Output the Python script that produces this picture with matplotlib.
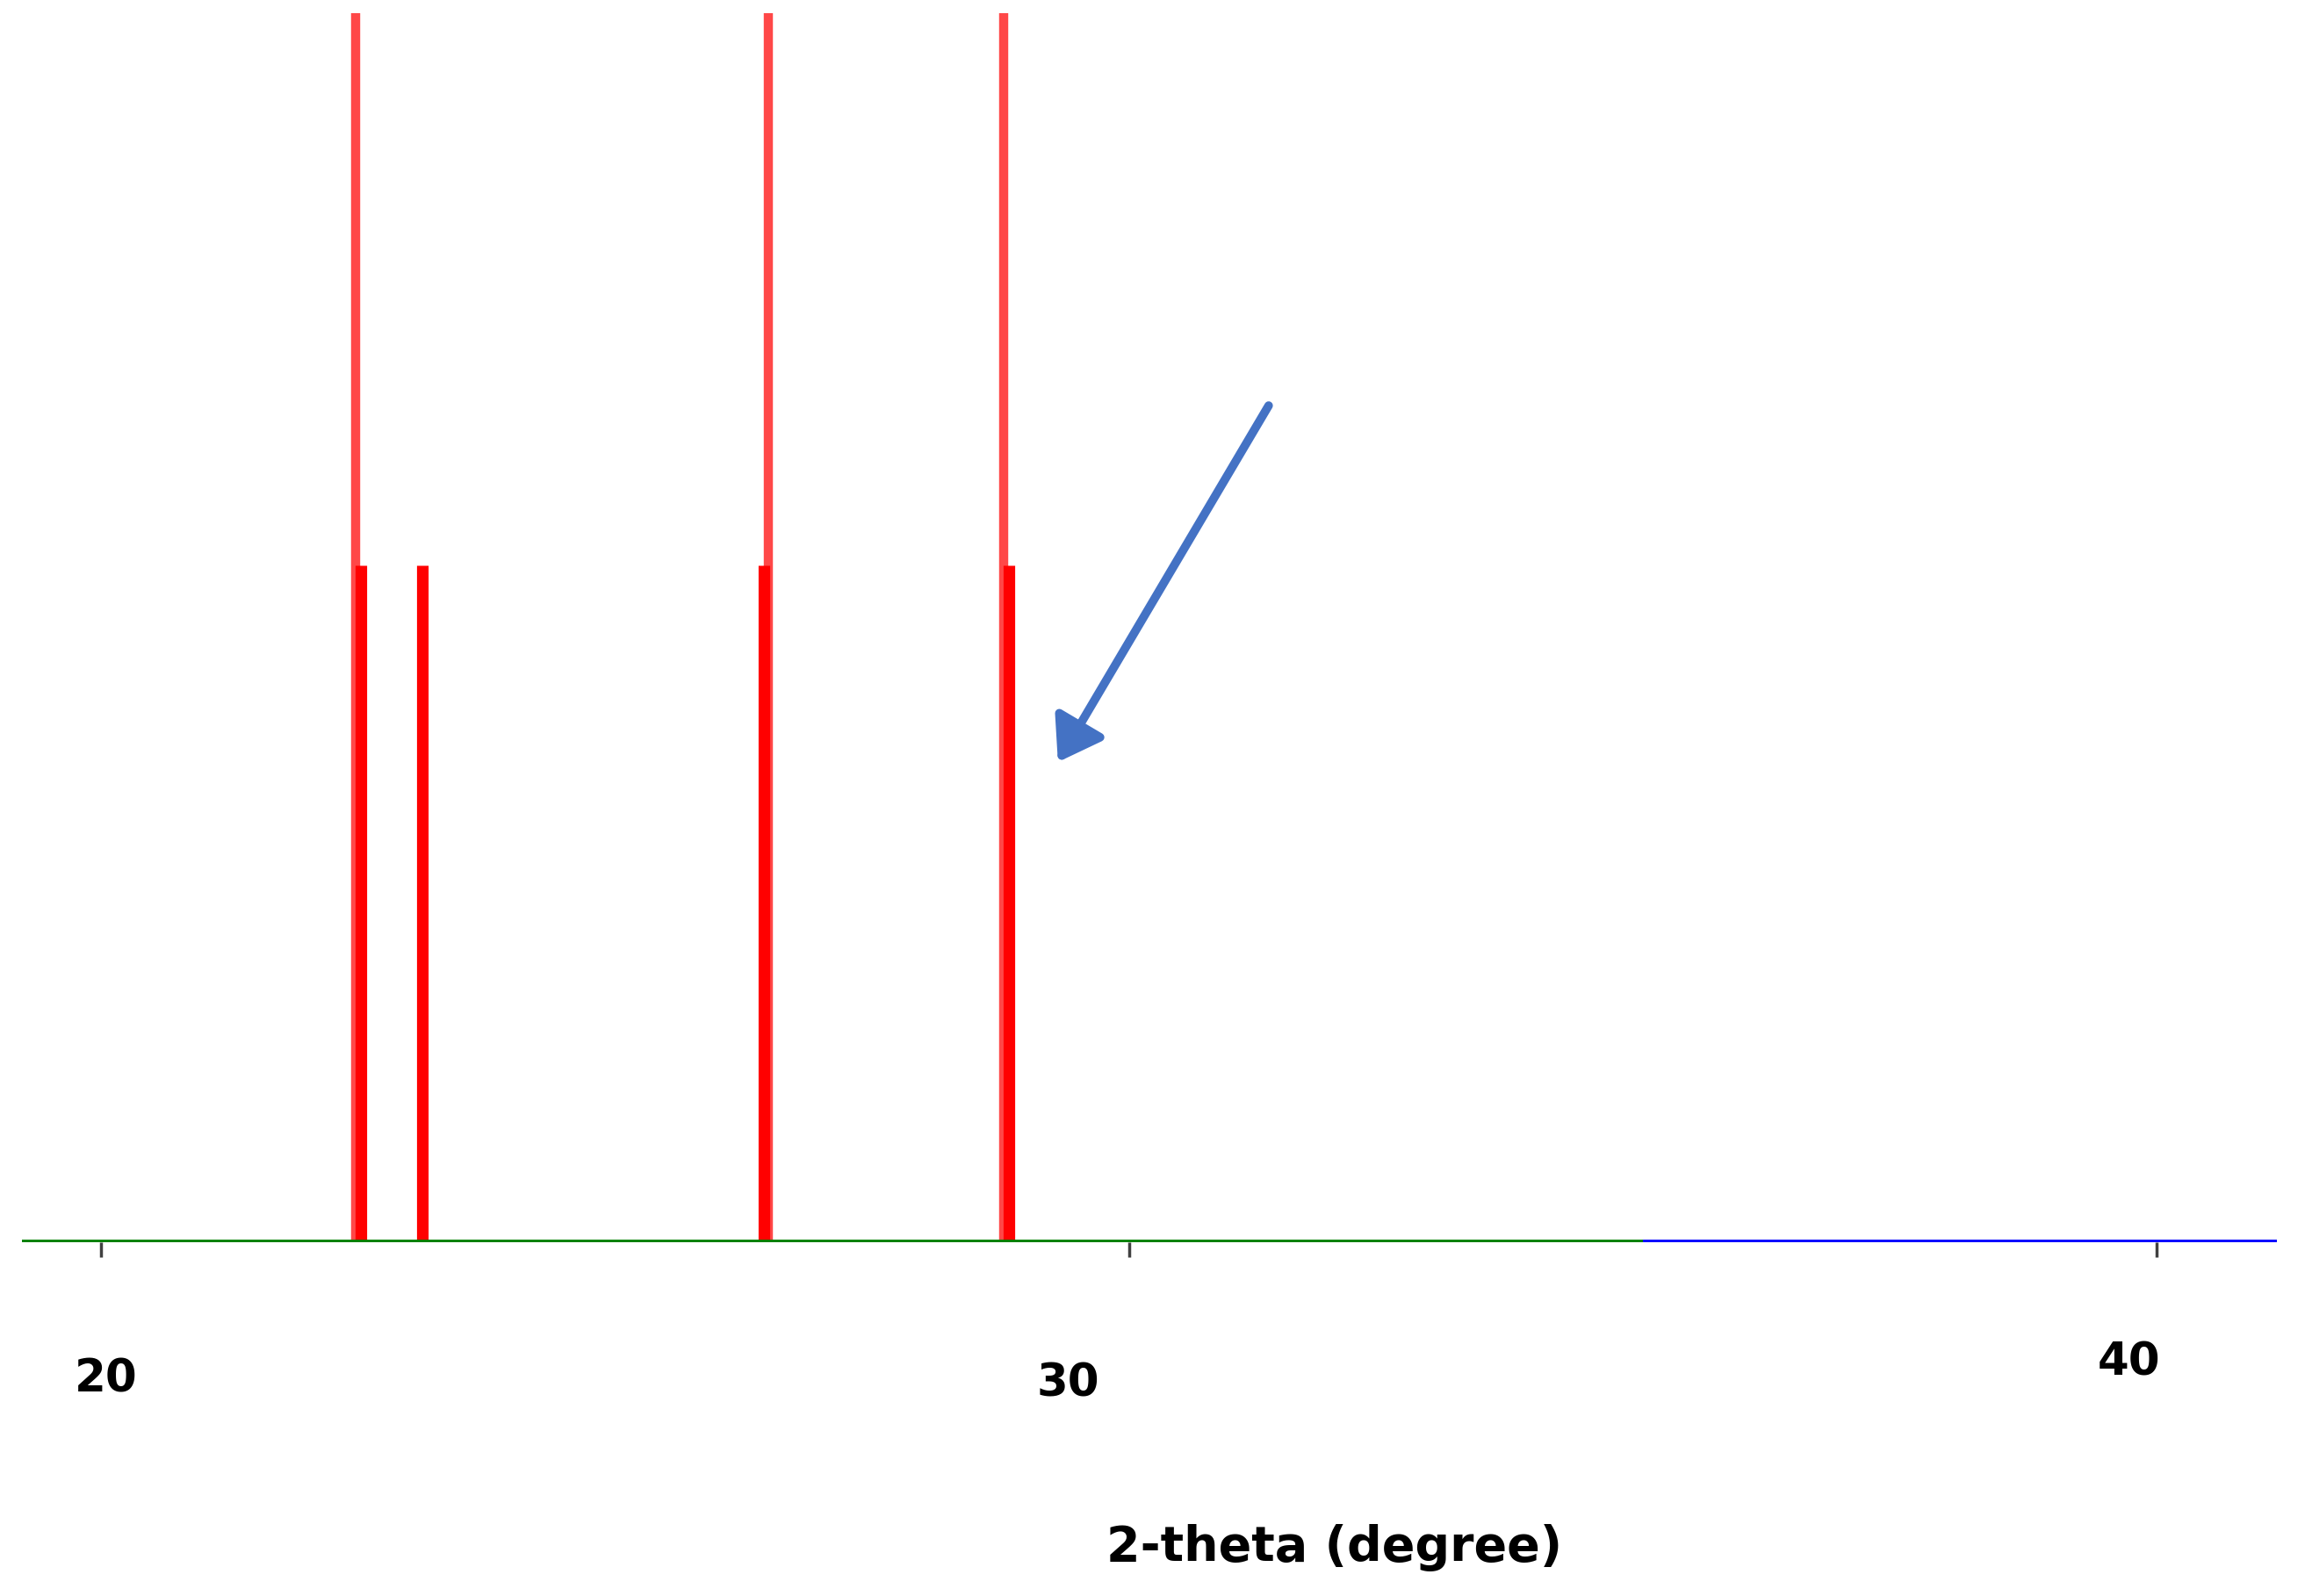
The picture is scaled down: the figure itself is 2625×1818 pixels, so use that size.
import matplotlib
matplotlib.use("Agg")
import matplotlib.pyplot as plt

plt.rcParams.update({
    "font.family": "DejaVu Sans",
    "figure.facecolor": "white",
    "axes.facecolor": "white",
})

RED_TALL = "#FF4848"
RED = "#FF0000"
GREEN = "#008000"
BLUE = "#0000FF"
ARROW = "#4472C4"

# reflection positions (2-theta, degree) and relative intensities
tall_pos = [22.48, 26.49, 28.78]
tall_int = [100, 100, 100]
short_pos = [22.53, 23.13, 26.45, 28.83]
short_int = [55.1, 55.1, 55.1, 55.1]

# baseline segments of the two patterns
green_range = [19.23, 35.0]
blue_range = [35.0, 41.17]

tick_values = [20, 30, 40]
tick_labels = ["20", "30", "40"]

fig = plt.figure(figsize=(26.25, 18.18), dpi=100)
ax = fig.add_axes([0.00952, 0.22167, 0.97829, 0.77008])

ax.vlines(tall_pos, 0, tall_int, color=RED_TALL, linewidth=7.5, zorder=2)
ax.vlines(short_pos, 0, short_int, color=RED, linewidth=9.5, zorder=3)

ax.plot(green_range, [0, 0], color=GREEN, linewidth=4.2, zorder=4,
        solid_capstyle="butt")
ax.plot(blue_range, [0, 0], color=BLUE, linewidth=4.2, zorder=4,
        solid_capstyle="butt")

ax.set_xlim(green_range[0], blue_range[1])
ax.set_ylim(0, 100)
for s in ax.spines.values():
    s.set_visible(False)
ax.set_yticks([])
ax.set_xticks(tick_values)
ax.set_xticklabels([])
ax.tick_params(axis="x", direction="out", length=12, width=2.5, color="#404040")

# hand-placed tick labels, as in the original figure
label_x = [20.05, 29.41, 39.735]
label_y = [-12.21, -12.5, -10.79]
for x, y, t in zip(label_x, label_y, tick_labels):
    ax.text(x, y, t, ha="center", va="baseline", fontsize=37,
            fontweight="bold", color="black", clip_on=False)

ax.text(32.0, -25.93, "2-theta (degree)", ha="center", va="baseline",
        fontsize=40, fontweight="bold", color="black", clip_on=False)

ax.annotate("", xy=(29.31, 39.07), xytext=(31.36, 68.07),
            arrowprops=dict(arrowstyle="-|>,head_length=0.4,head_width=0.27",
                            color=ARROW, lw=7, mutation_scale=72,
                            shrinkA=0, shrinkB=0))

fig.savefig("out.png", dpi=100)
